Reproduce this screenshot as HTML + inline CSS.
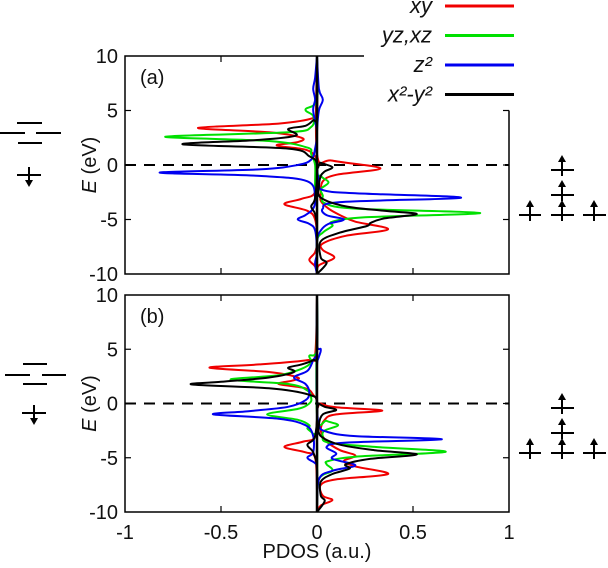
<!DOCTYPE html>
<html><head><meta charset="utf-8"><style>
body{margin:0;background:#fff;width:608px;height:568px;overflow:hidden}
svg{display:block}
text{font-family:"Liberation Sans",sans-serif;fill:#111}
</style></head><body>
<svg id="chart" width="608" height="568" viewBox="0 0 608 568"></svg>
<script>
// ---- data ----
const xTicks=[-1,-0.5,0,0.5,1];
const xTickLabels=["-1","-0.5","0","0.5","1"];
const yTicks=[10,5,0,-5,-10];
const yTickLabels=["10","5","0","-5","-10"];
const seriesNames=["xy","yz,xz","z2","x2-y2"];
const seriesColors=["#f00000","#00e000","#0000f0","#000000"];
// panel a
const aRedDnE=[10,5,4.3,3.8,3.4,3.0,2.5,2.1,1.8,1.4,0.8,0,-2.5,-3.1,-3.6,-4.2,-5,-7,-8,-8.7,-9.3,-10];
const aRedDnV=[0,0,-0.02,-0.2,-0.62,-0.25,-0.08,-0.1,-0.21,-0.06,-0.01,0,-0.01,-0.08,-0.17,-0.05,-0.01,0,-0.01,-0.04,-0.01,0];
const aRedUpE=[10,1,0.4,-0.3,-0.9,-1.5,-2.5,-3.3,-4,-4.6,-5.2,-5.9,-6.5,-7.2,-7.8,-8.5,-9.2,-10];
const aRedUpV=[0,0,0.08,0.33,0.1,0.03,0.02,0.02,0.06,0.12,0.2,0.37,0.15,0.03,0.03,0.09,0.01,0];
const aGrnDnE=[10,6,5.1,4.5,3.5,3.0,2.6,2.2,1.6,1,0,-2,-3,-10];
const aGrnDnV=[0,0,-0.06,-0.02,-0.03,-0.15,-0.79,-0.25,-0.05,-0.03,-0.01,-0.01,0,0];
const aGrnUpE=[10,0,-1,-1.6,-2.2,-2.8,-3.5,-4.0,-4.4,-4.8,-5.2,-5.6,-6.2,-7,-10];
const aGrnUpV=[0,0,0.02,0.06,0.02,0.03,0.04,0.2,0.85,0.25,0.08,0.08,0.03,0,0];
const aBluDnE=[10,8,7,6,5,3,1.5,0.5,0,-0.4,-0.7,-1.0,-1.5,-3,-4,-4.6,-5,-5.4,-6,-8,-9,-10];
const aBluDnV=[0,-0.01,-0.02,-0.01,-0.02,0,-0.01,-0.03,-0.1,-0.3,-0.82,-0.3,-0.05,-0.01,-0.02,-0.06,-0.1,-0.04,-0.01,0,-0.01,0];
const aBluUpE=[10,7,6,5,3,0,-1.5,-2.3,-2.6,-3.0,-3.4,-4,-4.6,-5,-5.4,-6,-7,-10];
const aBluUpV=[0,0.01,0.03,0.01,0,0,0.01,0.03,0.2,0.75,0.12,0.03,0.05,0.14,0.06,0.02,0,0];
const aBlkDnE=[10,4.5,4.1,3.6,3.3,2.7,2.3,1.9,1.5,0.8,0,-3,-3.8,-4.5,-6,-10];
const aBlkDnV=[0,0,-0.02,-0.06,-0.15,-0.11,-0.3,-0.7,-0.15,-0.04,0,-0.01,-0.03,-0.01,0,0];
const aBlkUpE=[10,0.5,0.2,-0.2,-0.6,-1,-2,-3,-3.8,-4.2,-4.5,-4.9,-5.3,-5.6,-6.2,-7,-8.5,-9,-10];
const aBlkUpV=[0,0,0.02,0.08,0.04,0.02,0.01,0.02,0.15,0.35,0.52,0.35,0.28,0.26,0.12,0.02,0.02,0.05,0];
// panel b
const bRedDnE=[10,4.5,4.0,3.6,3.3,2.9,2.4,2.1,1.8,1.4,0.8,0,-3,-3.5,-4.0,-4.5,-5,-8,-10];
const bRedDnV=[0,-0.01,-0.05,-0.3,-0.56,-0.25,-0.1,-0.13,-0.2,-0.06,-0.02,0,-0.01,-0.07,-0.17,-0.06,-0.01,0,0];
const bRedUpE=[10,0.5,0,-0.35,-0.65,-1,-1.5,-2.5,-3.5,-4.3,-4.8,-5.3,-5.8,-6.5,-7,-7.5,-8.5,-8.9,-9.4,-10];
const bRedUpV=[0,0,0.02,0.1,0.34,0.1,0.04,0.02,0.05,0.12,0.2,0.14,0.2,0.37,0.1,0.02,0.03,0.08,0.02,0];
const bGrnDnE=[10,5,4.4,3.8,3.2,2.6,2.2,1.8,1.2,0.5,0,-0.5,-1.0,-1.5,-2,-2.3,-2.8,-3.5,-10];
const bGrnDnV=[0,0,-0.04,-0.03,-0.08,-0.2,-0.45,-0.15,-0.05,-0.03,-0.04,-0.1,-0.26,-0.1,-0.04,-0.05,-0.02,0,0];
const bGrnUpE=[10,-1,-1.6,-2.0,-2.5,-3,-3.6,-4.0,-4.45,-4.9,-5.3,-5.6,-6.2,-7,-10];
const bGrnUpV=[0,0,0.05,0.11,0.04,0.03,0.06,0.3,0.67,0.2,0.06,0.05,0.08,0.01,0];
const bBluDnE=[10,5,4,3,2.4,1.8,1,0.3,-0.3,-0.7,-1.0,-1.4,-2,-3,-4.5,-5,-5.5,-6,-10];
const bBluDnV=[0,0,-0.02,-0.05,-0.12,-0.06,-0.04,-0.06,-0.15,-0.35,-0.54,-0.2,-0.06,-0.02,-0.02,-0.05,-0.01,0,0];
const bBluUpE=[10,5.5,5,4.3,3.5,0,-2,-2.6,-3.0,-3.3,-3.6,-4,-4.6,-5.1,-5.7,-6.2,-7,-10];
const bBluUpV=[0,0,0.02,0.01,0,0,0.01,0.05,0.2,0.65,0.15,0.05,0.1,0.08,0.2,0.08,0.01,0];
const bBlkDnE=[10,4.5,4.0,3.6,3.3,2.9,2.4,2.0,1.75,1.4,0.8,0,-3,-3.8,-4.5,-6,-10];
const bBlkDnV=[0,0,-0.02,-0.08,-0.15,-0.12,-0.25,-0.5,-0.65,-0.25,-0.04,0,-0.01,-0.05,-0.02,0,0];
const bBlkUpE=[10,0.3,0,-0.3,-0.6,-1,-2,-3,-3.8,-4.3,-4.7,-5.1,-5.6,-6.0,-6.5,-7.2,-8.5,-9,-10];
const bBlkUpV=[0,0,0.01,0.04,0.1,0.03,0.01,0.02,0.12,0.3,0.52,0.28,0.15,0.17,0.08,0.02,0.02,0.04,0];

const NS="http://www.w3.org/2000/svg";
const svg=document.getElementById('chart');
function mk(tag,attrs,parent){const e=document.createElementNS(NS,tag);for(const k in attrs)e.setAttribute(k,attrs[k]);(parent||svg).appendChild(e);return e;}
const X0=125,X1=509;
const xs=v=>X0+(v+1)/2*(X1-X0);
function panel(id,top,bot,label,fullTop,curves){
  const ys=e=>top+(10-e)/20*(bot-top);
  const g=mk('g',{});
  
  
  const d=mk('line',{x1:X0,x2:X1,y1:ys(0),y2:ys(0),stroke:'#000','stroke-width':2,'stroke-dasharray':'11,8'},g);
  
  
  curves.forEach(c=>{
    const pts=c.E.map((e,i)=>[xs(c.V[i]),ys(e)]);
    let p='M'+pts[0][0].toFixed(1)+','+pts[0][1].toFixed(1);
    for(let i=0;i<pts.length-1;i++){
      const p0=pts[Math.max(0,i-1)],p1=pts[i],p2=pts[i+1],p3=pts[Math.min(pts.length-1,i+2)];
      const c1=[p1[0]+(p2[0]-p0[0])/6,p1[1]+(p2[1]-p0[1])/6];
      const c2=[p2[0]-(p3[0]-p1[0])/6,p2[1]-(p3[1]-p1[1])/6];
      p+=' C'+c1.map(v=>v.toFixed(1))+' '+c2.map(v=>v.toFixed(1))+' '+p2.map(v=>v.toFixed(1));
    }
    const el=mk('path',{d:p,fill:'none',stroke:c.color,'stroke-width':2,'stroke-linejoin':'round'},g);
    
    
  });
  const z=mk('line',{x1:xs(0),x2:xs(0),y1:top,y2:bot,stroke:'#000','stroke-width':2.5},g);
  
  
  const fr=mk('path',{d:fullTop?`M${X0},${top}H${X1}V${bot}H${X0}Z`:`M364,${top}H${X0}V${bot}H${X1}V${ys(5)}`,fill:'none',stroke:'#000','stroke-width':1.5},g);
  
  
  xTicks.forEach((v,i)=>{
    if(v>-1&&v<1){
      mk('line',{x1:xs(v),x2:xs(v),y1:bot,y2:bot-6,stroke:'#000','stroke-width':1.2},g);
      if(fullTop||v<0)mk('line',{x1:xs(v),x2:xs(v),y1:top,y2:top+6,stroke:'#000','stroke-width':1.2},g);
    }
    if(fullTop){const t=mk('text',{x:xs(v),y:bot+27,'text-anchor':'middle','font-size':20},g);t.textContent=xTickLabels[i];
      }
  });
  yTicks.forEach((v,i)=>{
    if(v>-10&&v<10){
      mk('line',{x1:X0,x2:X0+6,y1:ys(v),y2:ys(v),stroke:'#000','stroke-width':1.2},g);
      mk('line',{x1:X1,x2:X1-6,y1:ys(v),y2:ys(v),stroke:'#000','stroke-width':1.2},g);
    }
    const t=mk('text',{x:X0-7,y:ys(v)+7,'text-anchor':'end','font-size':20},g);t.textContent=yTickLabels[i];
    
  });
  const yt=mk('text',{transform:`translate(96,${ys(0)}) rotate(-90)`,'text-anchor':'middle','font-size':20},g);
  yt.innerHTML='<tspan font-style="italic">E</tspan> (eV)';
  
  const pl=mk('text',{x:140,y:top+28,'font-size':20},g);pl.textContent=label;
  
}
panel('a',56,274,'(a)',false,[
 {E:aRedDnE,V:aRedDnV,color:seriesColors[0],name:'xy-spin-down'},{E:aRedUpE,V:aRedUpV,color:seriesColors[0],name:'xy-spin-up'},
 {E:aGrnDnE,V:aGrnDnV,color:seriesColors[1],name:'yz-xz-spin-down'},{E:aGrnUpE,V:aGrnUpV,color:seriesColors[1],name:'yz-xz-spin-up'},
 {E:aBluDnE,V:aBluDnV,color:seriesColors[2],name:'z2-spin-down'},{E:aBluUpE,V:aBluUpV,color:seriesColors[2],name:'z2-spin-up'},
 {E:aBlkDnE,V:aBlkDnV,color:seriesColors[3],name:'x2-y2-spin-down'},{E:aBlkUpE,V:aBlkUpV,color:seriesColors[3],name:'x2-y2-spin-up'}]);
panel('b',295,512,'(b)',true,[
 {E:bRedDnE,V:bRedDnV,color:seriesColors[0],name:'xy-spin-down'},{E:bRedUpE,V:bRedUpV,color:seriesColors[0],name:'xy-spin-up'},
 {E:bGrnDnE,V:bGrnDnV,color:seriesColors[1],name:'yz-xz-spin-down'},{E:bGrnUpE,V:bGrnUpV,color:seriesColors[1],name:'yz-xz-spin-up'},
 {E:bBluDnE,V:bBluDnV,color:seriesColors[2],name:'z2-spin-down'},{E:bBluUpE,V:bBluUpV,color:seriesColors[2],name:'z2-spin-up'},
 {E:bBlkDnE,V:bBlkDnV,color:seriesColors[3],name:'x2-y2-spin-down'},{E:bBlkUpE,V:bBlkUpV,color:seriesColors[3],name:'x2-y2-spin-up'}]);
const xt=mk('text',{x:317,y:558,'text-anchor':'middle','font-size':20});xt.textContent='PDOS (a.u.)';


const legLabels=['xy','yz,xz','z²','x²-y²'];
legLabels.forEach((l,i)=>{
  const y=6+i*29.5;
  const t=mk('text',{x:432,y:y+7,'text-anchor':'end','font-size':22,'font-style':'italic'});t.textContent=l;
  
  
  const ln=mk('line',{x1:445,x2:514,y1:y,y2:y,stroke:seriesColors[i],'stroke-width':3});
  
  
});
function lvl(x1,x2,y){mk('line',{x1,x2,y1:y,y2:y,stroke:'#000','stroke-width':2});}
function arrow(x,y,up){const tip=up?y-15:y+12;mk('line',{x1:x,x2:x,y1:up?y+6:y-8,y2:up?y-9:y+6,stroke:'#000','stroke-width':2});
  mk('path',{d:up?`M${x-4},${y-8}L${x+4},${y-8}L${x},${tip}Z`:`M${x-4},${y+5}L${x+4},${y+5}L${x},${tip}Z`,fill:'#000'});}
[0,1].forEach(k=>{
  if(k==0){lvl(17,42,123);lvl(0,25,133);lvl(36,61,133);lvl(18,42,143);lvl(17,41,175);arrow(29,175,false);}
  else{lvl(23,47,364);lvl(5,30,375);lvl(42,66,375);lvl(23,47,384);lvl(22,46,413);arrow(34,413,false);}
  const b=k==0?0:238;
  lvl(551,574,170+b);arrow(562,170+b,true);
  lvl(551,574,195+b);arrow(562,195+b,true);
  lvl(519,541,215+b);arrow(530,215+b,true);
  lvl(551,574,215+b);arrow(562,215+b,true);
  lvl(583,606,215+b);arrow(594,215+b,true);
});
</script>
</body></html>
